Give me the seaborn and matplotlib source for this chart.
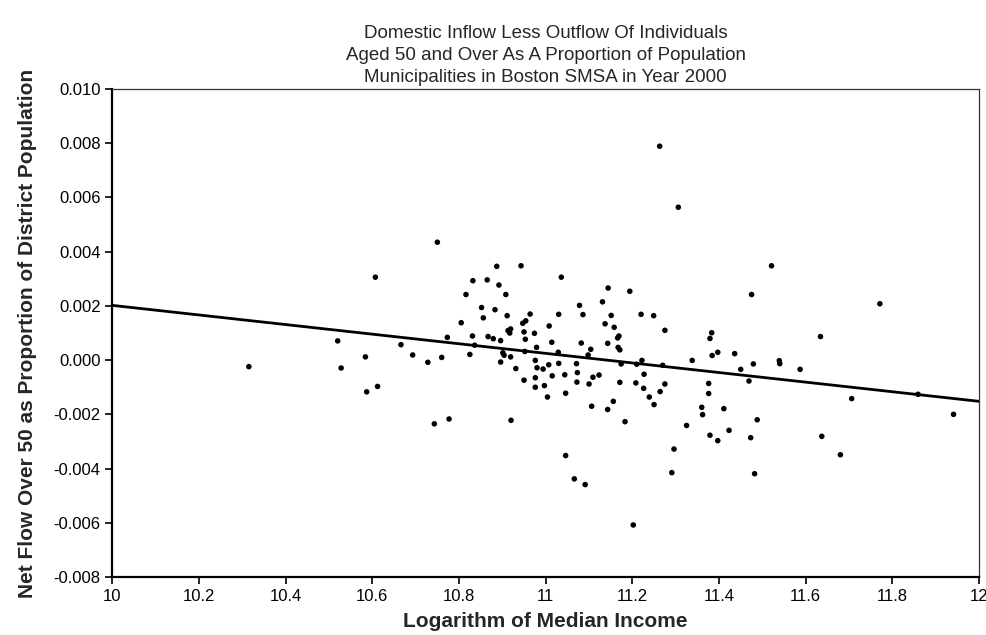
import matplotlib
matplotlib.use("Agg")
import matplotlib.pyplot as plt
import pandas as pd
import numpy as np
import seaborn as sns

# log of median income (x) and net flow over 50 as share of population (y)
log_income = [
    10.315, 10.520, 10.528, 10.584, 10.587, 10.607, 10.612, 10.666, 10.693, 10.728,
    10.743, 10.750, 10.760, 10.773, 10.777, 10.805, 10.816, 10.825, 10.831, 10.832,
    10.836, 10.852, 10.856, 10.865, 10.867, 10.879, 10.883, 10.887, 10.892, 10.896,
    10.896, 10.901, 10.904, 10.908, 10.911, 10.913, 10.917, 10.919, 10.919, 10.920,
    10.931, 10.943, 10.947, 10.950, 10.950, 10.952, 10.953, 10.954, 10.964, 10.974,
    10.976, 10.976, 10.976, 10.979, 10.980, 10.994, 10.997, 11.004, 11.007, 11.008,
    11.014, 11.015, 11.029, 11.030, 11.030, 11.036, 11.044, 11.046, 11.046, 11.066,
    11.071, 11.072, 11.073, 11.078, 11.082, 11.086, 11.091, 11.098, 11.100, 11.104,
    11.106, 11.109, 11.123, 11.131, 11.137, 11.143, 11.143, 11.144, 11.151, 11.156,
    11.158, 11.166, 11.167, 11.169, 11.171, 11.171, 11.174, 11.183, 11.194, 11.202,
    11.208, 11.210, 11.220, 11.222, 11.226, 11.227, 11.239, 11.249, 11.250, 11.263,
    11.264, 11.270, 11.275, 11.275, 11.291, 11.296, 11.306, 11.325, 11.338, 11.360,
    11.362, 11.376, 11.376, 11.379, 11.379, 11.383, 11.384, 11.397, 11.397, 11.411,
    11.423, 11.436, 11.450, 11.469, 11.473, 11.475, 11.479, 11.482, 11.488, 11.521,
    11.539, 11.540, 11.587, 11.634, 11.637, 11.680, 11.706, 11.771, 11.859, 11.941,
]
net_flow = [
    -0.00024, 0.00071, -0.00029, 0.00012, -0.00117, 0.00306, -0.00097, 0.00057, 0.00019, -0.00008,
    -0.00235, 0.00435, 0.00010, 0.00084, -0.00217, 0.00138, 0.00242, 0.00021, 0.00089, 0.00293,
    0.00055, 0.00194, 0.00156, 0.00296, 0.00087, 0.00079, 0.00186, 0.00346, 0.00277, 0.00072,
    -0.00007, 0.00027, 0.00018, 0.00242, 0.00164, 0.00109, 0.00100, 0.00115, 0.00012, -0.00222,
    -0.00031, 0.00348, 0.00136, 0.00104, -0.00074, 0.00032, 0.00077, 0.00145, 0.00170, 0.00099,
    -0.00001, -0.00065, -0.00100, 0.00047, -0.00028, -0.00033, -0.00094, -0.00136, -0.00017, 0.00126,
    0.00066, -0.00058, 0.00029, -0.00012, 0.00169, 0.00306, -0.00054, -0.00122, -0.00352, -0.00438,
    -0.00013, -0.00081, -0.00046, 0.00202, 0.00063, 0.00168, -0.00459, 0.00019, -0.00088, 0.00040,
    -0.00170, -0.00063, -0.00055, 0.00215, 0.00134, 0.00062, -0.00182, 0.00266, 0.00165, -0.00152,
    0.00121, 0.00082, 0.00047, 0.00089, 0.00038, -0.00082, -0.00014, -0.00227, 0.00254, -0.00608,
    -0.00084, -0.00015, 0.00169, -0.00001, -0.00104, -0.00052, -0.00136, 0.00164, -0.00164, 0.00789,
    -0.00116, -0.00019, 0.00110, -0.00088, -0.00415, -0.00328, 0.00564, -0.00241, -0.00001, -0.00174,
    -0.00201, -0.00086, -0.00123, -0.00277, 0.00080, 0.00101, 0.00017, -0.00297, 0.00029, -0.00179,
    -0.00259, 0.00024, -0.00034, -0.00077, -0.00286, 0.00242, -0.00014, -0.00419, -0.00220, 0.00348,
    -0.00002, -0.00013, -0.00034, 0.00087, -0.00281, -0.00349, -0.00142, 0.00208, -0.00126, -0.00200,
]

# fitted trend line at its two ends
trend_x = [10.0, 12.0]
trend_y = [0.00202, -0.00152]

x_ticks = [10, 10.2, 10.4, 10.6, 10.8, 11, 11.2, 11.4, 11.6, 11.8, 12]
x_tick_labels = ["10", "10.2", "10.4", "10.6", "10.8", "11", "11.2", "11.4", "11.6", "11.8", "12"]
y_ticks = [-0.008, -0.006, -0.004, -0.002, 0.0, 0.002, 0.004, 0.006, 0.008, 0.010]

df = pd.DataFrame({"log_income": log_income, "net_flow": net_flow})
trend = pd.DataFrame({"x": trend_x, "y": trend_y})

sns.set_style("white")
plt.rcParams["font.family"] = ["Liberation Sans", "DejaVu Sans"]

fig = plt.figure(figsize=(9.87, 6.35), dpi=100)
ax = fig.add_axes([0.1138, 0.0913, 0.8782, 0.7685])

sns.lineplot(data=trend, x="x", y="y", color="black", linewidth=2.0, ax=ax)
sns.scatterplot(data=df, x="log_income", y="net_flow", color="black", s=16,
                edgecolor="none", ax=ax, zorder=3)

ax.set_xlim(10, 12)
ax.set_ylim(-0.008, 0.010)
ax.set_xticks(x_ticks)
ax.set_xticklabels(x_tick_labels)
ax.set_yticks(y_ticks)
ax.set_yticklabels([f"{v:.3f}" for v in y_ticks])
ax.tick_params(axis="both", direction="out", length=5, width=1.2, labelsize=12,
               bottom=True, left=True, colors="black")

for side in ["left", "bottom"]:
    ax.spines[side].set_linewidth(1.6)
    ax.spines[side].set_color("black")
for side in ["top", "right"]:
    ax.spines[side].set_linewidth(0.9)
    ax.spines[side].set_color("#333333")

ax.set_xlabel("Logarithm of Median Income", fontsize=15, fontweight="bold",
              labelpad=6)
ax.set_ylabel("Net Flow Over 50 as Proportion of District Population",
              fontsize=15, fontweight="bold", labelpad=12)
ax.set_title("Domestic Inflow Less Outflow Of Individuals\n"
             "Aged 50 and Over As A Proportion of Population\n"
             "Municipalities in Boston SMSA in Year 2000",
             fontsize=13.5, linespacing=1.38, pad=5)

fig.savefig("out.png", dpi=100)
